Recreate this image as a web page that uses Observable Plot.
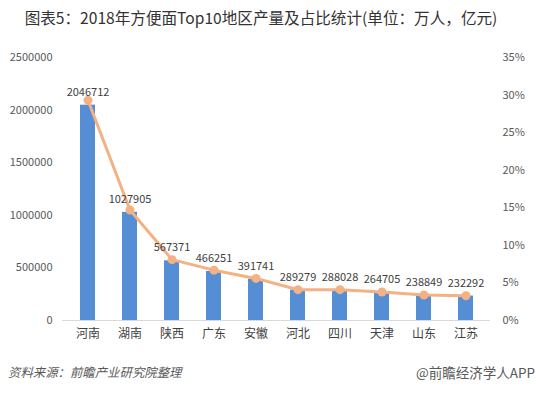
<!DOCTYPE html>
<html>
<head>
<meta charset="utf-8">
<script src="https://cdn.jsdelivr.net/npm/d3@7"></script>
<script src="https://cdn.jsdelivr.net/npm/@observablehq/plot@0.6"></script>
<style>
  html, body { margin: 0; padding: 0; background: #fff; width: 540px; height: 395px; overflow: hidden; }
  body { font-family: "Noto Sans CJK SC", "Noto Sans", sans-serif; }
  #title { height: 34px; line-height: 35px; text-align: center; font-size: 15.6px; color: #333; white-space: nowrap; padding-right: 18px; }
  #chart svg { display: block; }
  #footer { position: relative; height: 41px; color: #595959; }
  #src { position: absolute; left: 8px; top: 9px; font-style: italic; font-size: 12.4px; }
  #brand { position: absolute; right: 5px; top: 8px; font-size: 13.5px; }
</style>
</head>
<body>
<div id="title">图表5：2018年方便面Top10地区产量及占比统计(单位：万人，亿元)</div>
<div id="chart"></div>
<div id="footer"><span id="src">资料来源：前瞻产业研究院整理</span><span id="brand">@前瞻经济学人APP</span></div>
<script>
const regions = ["河南", "湖南", "陕西", "广东", "安徽", "河北", "四川", "天津", "山东", "江苏"];
const output = [2046712, 1027905, 567371, 466251, 391741, 289279, 288028, 264705, 238849, 232292];
const share = [29.3, 14.7, 8.1, 6.7, 5.6, 4.1, 4.1, 3.8, 3.4, 3.3];
const leftTicks = [0, 500000, 1000000, 1500000, 2000000, 2500000];
const rightTicks = [0, 5, 10, 15, 20, 25, 30, 35];

const yMax = 2500000, pMax = 35;
const k = yMax / pMax; // map percent onto the left scale
const rows = regions.map((r, i) => ({region: r, value: output[i], pct: share[i], py: share[i] * k}));

const barColor = "#558ED5";
const lineColor = "#F4B183";

const chart = Plot.plot({
  width: 540,
  height: 320,
  marginTop: 23,
  marginBottom: 34,
  marginLeft: 62,
  marginRight: 50,
  style: {fontFamily: '"Noto Sans CJK SC", "Noto Sans", sans-serif', background: "#fff"},
  x: {domain: regions, paddingInner: 0.65, paddingOuter: 0.325, label: null},
  y: {domain: [0, yMax], label: null},
  marks: [
    Plot.axisY({ticks: leftTicks, tickFormat: d => String(d), tickSize: 0, tickPadding: 10, fontSize: 11, color: "#595959", label: null}),
    Plot.axisY({anchor: "right", ticks: rightTicks.map(p => p * k), tickFormat: d => Math.round(d / k) + "%", tickSize: 0, tickPadding: 12, textAnchor: "start", fontSize: 11, color: "#595959", label: null}),
    Plot.axisX({tickSize: 0, tickPadding: 9, fontSize: 12, color: "#404040", label: null}),
    Plot.barY(rows, {x: "region", y: "value", fill: barColor}),
    Plot.ruleY([0], {stroke: "#d9d9d9", strokeWidth: 1}),
    Plot.line(rows, {x: "region", y: "py", stroke: lineColor, strokeWidth: 3}),
    Plot.dot(rows, {x: "region", y: "py", r: 4.5, fill: lineColor, stroke: "none"}),
    Plot.text(rows, {x: "region", y: "value", text: d => String(d.value), dy: -13, fontSize: 11, fill: "#404040"})
  ]
});
document.getElementById("chart").appendChild(chart);
</script>
</body>
</html>
